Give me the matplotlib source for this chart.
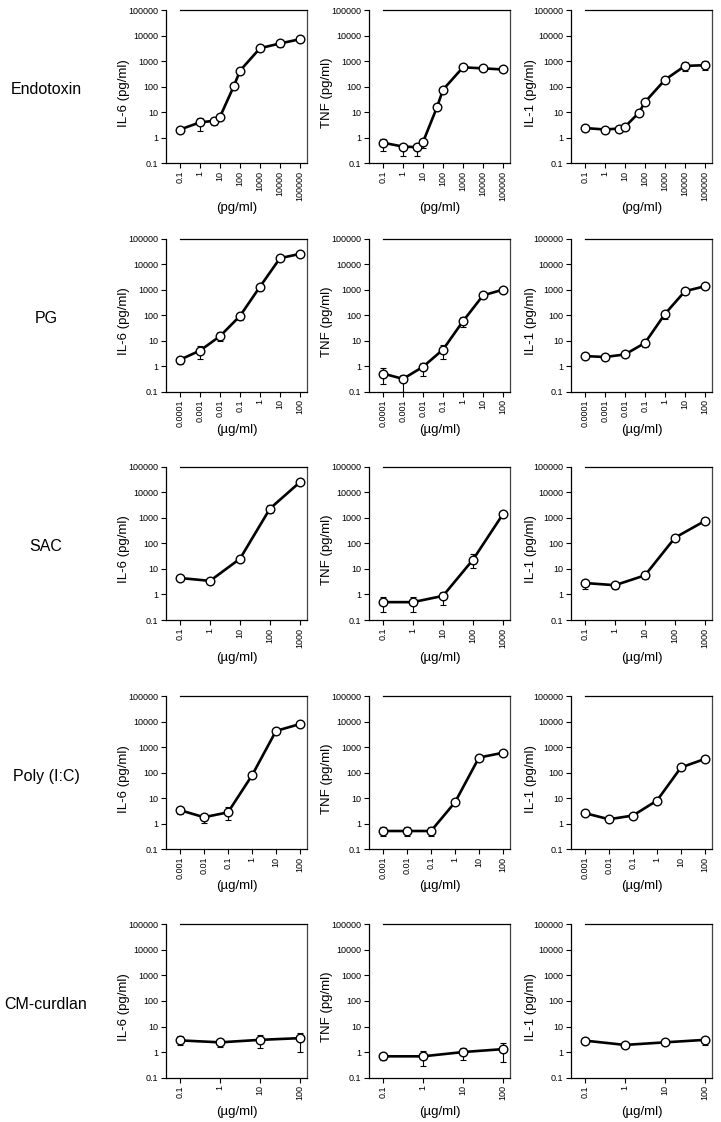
import numpy as np
import matplotlib
matplotlib.use("Agg")
import matplotlib.pyplot as plt
from matplotlib.ticker import FixedLocator, FixedFormatter, NullLocator

plt.rcParams['font.family'] = ['Liberation Sans', 'DejaVu Sans']

# ---------------- data ----------------
row_names = ['Endotoxin', 'PG', 'SAC', 'Poly (I:C)', 'CM-curdlan']
x_units = ['(pg/ml)', '(µg/ml)', '(µg/ml)', '(µg/ml)', '(µg/ml)']
cyto_labels = ['IL-6 (pg/ml)', 'TNF (pg/ml)', 'IL-1 (pg/ml)']

y_ticks = [0.1, 1, 10, 100, 1000, 10000, 100000]
y_ticklabels = ['0.1', '1', '10', '100', '1000', '10000', '100000']

endo_xticks = [0.1, 1, 10, 100, 1000, 10000, 100000]
endo_xticklabels = ['0.1', '1', '10', '100', '1000', '10000', '100000']
pg_xticks = [0.0001, 0.001, 0.01, 0.1, 1, 10, 100]
pg_xticklabels = ['0.0001', '0.001', '0.01', '0.1', '1', '10', '100']
sac_xticks = [0.1, 1, 10, 100, 1000]
sac_xticklabels = ['0.1', '1', '10', '100', '1000']
poly_xticks = [0.001, 0.01, 0.1, 1, 10, 100]
poly_xticklabels = ['0.001', '0.01', '0.1', '1', '10', '100']
cm_xticks = [0.1, 1, 10, 100]
cm_xticklabels = ['0.1', '1', '10', '100']

# Endotoxin
endo_x = [0.1, 1, 5, 10, 50, 100, 1000, 10000, 100000]
endo_il6 = [2.1, 4.0, 4.6, 6.6, 108, 420, 3200, 4900, 7200]
endo_il6_lo = [1.5, 1.8, 3.1, 6.6, 108, 420, 3200, 3600, 7200]
endo_il6_hi = [2.1, 5.7, 5.5, 6.6, 108, 420, 3200, 6200, 7200]
endo_tnf = [0.64, 0.45, 0.43, 0.68, 15.6, 76, 570, 520, 470]
endo_tnf_lo = [0.3, 0.2, 0.2, 0.4, 15.6, 76, 570, 520, 470]
endo_tnf_hi = [0.9, 0.55, 0.57, 0.9, 15.6, 76, 570, 520, 470]
endo_il1 = [2.4, 2.1, 2.3, 2.7, 9.6, 25, 186, 650, 690]
endo_il1_lo = [2.4, 2.1, 2.3, 2.7, 9.6, 25, 186, 400, 430]
endo_il1_hi = [2.4, 2.1, 2.3, 2.7, 9.6, 25, 186, 950, 1000]

# PG
pg_x = [0.0001, 0.001, 0.01, 0.1, 1, 10, 100]
pg_il6 = [1.8, 4.1, 15, 93, 1300, 17000, 25000]
pg_il6_lo = [1.2, 1.9, 9.4, 63, 1300, 17000, 25000]
pg_il6_hi = [2.3, 6.1, 22, 93, 1300, 17000, 25000]
pg_tnf = [0.52, 0.32, 0.95, 4.5, 58, 590, 1000]
pg_tnf_lo = [0.2, 0.1, 0.41, 1.9, 35, 590, 1000]
pg_tnf_hi = [0.86, 0.47, 1.4, 6.5, 86, 590, 1000]
pg_il1 = [2.5, 2.3, 2.9, 8.2, 112, 870, 1350]
pg_il1_lo = [2.5, 2.3, 2.9, 5.7, 72, 870, 1350]
pg_il1_hi = [2.5, 2.3, 2.9, 8.2, 112, 870, 1350]

# SAC
sac_x = [0.1, 1, 10, 100, 1000]
sac_il6 = [4.4, 3.4, 25, 2300, 25000]
sac_il6_lo = [4.4, 2.7, 25, 1550, 25000]
sac_il6_hi = [4.4, 3.4, 25, 3100, 25000]
sac_tnf = [0.5, 0.5, 0.88, 23, 1400]
sac_tnf_lo = [0.2, 0.2, 0.39, 11, 1400]
sac_tnf_hi = [0.78, 0.78, 1.3, 37, 1400]
sac_il1 = [2.8, 2.3, 5.6, 167, 760]
sac_il1_lo = [1.7, 1.7, 4.0, 167, 760]
sac_il1_hi = [3.8, 2.3, 7.4, 167, 760]

# Poly (I:C)
poly_x = [0.001, 0.01, 0.1, 1, 10, 100]
poly_il6 = [3.4, 1.8, 2.8, 78, 4300, 8000]
poly_il6_lo = [2.5, 1.1, 1.4, 78, 4300, 8000]
poly_il6_hi = [4.1, 2.5, 4.4, 78, 4300, 8000]
poly_tnf = [0.52, 0.52, 0.52, 6.9, 390, 600]
poly_tnf_lo = [0.32, 0.32, 0.32, 6.9, 390, 600]
poly_tnf_hi = [0.72, 0.72, 0.72, 6.9, 390, 600]
poly_il1 = [2.6, 1.5, 2.1, 8.1, 160, 345]
poly_il1_lo = [2.6, 1.5, 2.1, 8.1, 160, 255]
poly_il1_hi = [2.6, 1.5, 2.1, 8.1, 160, 400]

# CM-curdlan
cm_x = [0.1, 1, 10, 100]
cm_il6 = [2.86, 2.4, 3.0, 3.5]
cm_il6_lo = [1.9, 1.6, 1.5, 1.0]
cm_il6_hi = [4.1, 3.3, 4.5, 5.5]
cm_tnf = [0.68, 0.68, 1.0, 1.3]
cm_tnf_lo = [0.5, 0.29, 0.5, 0.4]
cm_tnf_hi = [0.86, 1.06, 1.5, 2.2]
cm_il1 = [2.8, 1.9, 2.4, 3.0]
cm_il1_lo = [2.8, 1.9, 2.4, 1.9]
cm_il1_hi = [2.8, 1.9, 2.4, 3.9]

rows = [
    (endo_x, endo_xticks, endo_xticklabels,
     [(endo_il6, endo_il6_lo, endo_il6_hi), (endo_tnf, endo_tnf_lo, endo_tnf_hi), (endo_il1, endo_il1_lo, endo_il1_hi)]),
    (pg_x, pg_xticks, pg_xticklabels,
     [(pg_il6, pg_il6_lo, pg_il6_hi), (pg_tnf, pg_tnf_lo, pg_tnf_hi), (pg_il1, pg_il1_lo, pg_il1_hi)]),
    (sac_x, sac_xticks, sac_xticklabels,
     [(sac_il6, sac_il6_lo, sac_il6_hi), (sac_tnf, sac_tnf_lo, sac_tnf_hi), (sac_il1, sac_il1_lo, sac_il1_hi)]),
    (poly_x, poly_xticks, poly_xticklabels,
     [(poly_il6, poly_il6_lo, poly_il6_hi), (poly_tnf, poly_tnf_lo, poly_tnf_hi), (poly_il1, poly_il1_lo, poly_il1_hi)]),
    (cm_x, cm_xticks, cm_xticklabels,
     [(cm_il6, cm_il6_lo, cm_il6_hi), (cm_tnf, cm_tnf_lo, cm_tnf_hi), (cm_il1, cm_il1_lo, cm_il1_hi)]),
]

# ---------------- layout (pixels) ----------------
W, H = 721, 1122
fig = plt.figure(figsize=(W / 100, H / 100), dpi=100)
col_left = [166, 369, 571]
ax_w = 141
row_top = [10, 238.5, 466.7, 696, 924.3]
ax_h = 153.3
pad_l, pad_r = 14, 7
xlabel_off = [45, 38, 38, 37, 34]
ylabel_off = [42, 42, 40]

for r, (xs, xt, xtl, series) in enumerate(rows):
    fig.text(46 / W, 1 - (row_top[r] + 80) / H, row_names[r], fontsize=11.5,
             ha='center', va='center')
    a = np.log10(xt[0]); b = np.log10(xt[-1])
    total = (b - a) / ((ax_w - pad_l - pad_r) / ax_w)
    lo_x = 10 ** (a - total * pad_l / ax_w)
    hi_x = 10 ** (b + total * pad_r / ax_w)
    for c in range(3):
        ax = fig.add_axes([col_left[c] / W, 1 - (row_top[r] + ax_h) / H, ax_w / W, ax_h / H])
        y, ylo, yhi = (np.array(v, dtype=float) for v in series[c])
        ax.errorbar(xs, y, yerr=[y - ylo, yhi - y], fmt='none', ecolor='black',
                    elinewidth=0.8, capsize=2.5, capthick=0.8, zorder=2)
        ax.plot(xs, y, '-o', color='black', lw=1.9, mfc='white', mec='black',
                ms=6.2, mew=1.0, zorder=3, clip_on=False)
        ax.set_xscale('log')
        ax.set_yscale('log')
        ax.set_xlim(lo_x, hi_x)
        ax.set_ylim(0.1, 100000)
        ax.xaxis.set_major_locator(FixedLocator(xt))
        ax.xaxis.set_major_formatter(FixedFormatter(xtl))
        ax.yaxis.set_major_locator(FixedLocator(y_ticks))
        ax.yaxis.set_major_formatter(FixedFormatter(y_ticklabels))
        ax.xaxis.set_minor_locator(NullLocator())
        ax.yaxis.set_minor_locator(NullLocator())
        ax.tick_params(axis='both', direction='out', length=3.5, width=0.8,
                       labelsize=6.5, pad=2, colors='black')
        ax.tick_params(axis='x', labelrotation=90)
        for s in ax.spines.values():
            s.set_linewidth(0.9)
            s.set_color('black')
        ax.spines['right'].set_color('#444444')
        ax.spines['top'].set_bounds(xt[0], hi_x)
        ax.set_ylabel(cyto_labels[c], fontsize=9.5)
        ax.yaxis.set_label_coords(-ylabel_off[c] / ax_w, 0.46)
        ax.yaxis.label.set_va('center')
        ax.set_xlabel(x_units[r], fontsize=9.5)
        ax.xaxis.set_label_coords(0.5, -xlabel_off[r] / ax_h)
        ax.xaxis.label.set_va('center')

fig.savefig('out.png', dpi=100)
